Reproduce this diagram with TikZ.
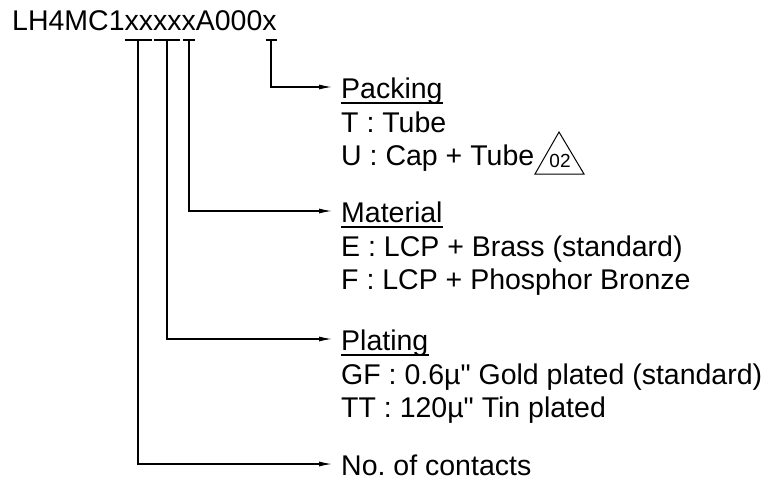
\documentclass[tikz,border=0pt]{standalone}
\usepackage{fontspec}
\setmainfont{Liberation Sans}[Ligatures=TeXOff]
\usetikzlibrary{arrows.meta}
\frenchspacing
\begin{document}
\begin{tikzpicture}[x=1pt,y=-1pt,
  lbl/.style={inner sep=0pt,anchor=base west,font=\fontsize{28.5}{34}\selectfont},
  conn/.style={line width=1.2pt,-{Latex[length=13pt,width=5pt]}},
  tick/.style={line width=1.2pt},
  uline/.style={line width=1.2pt}]
\useasboundingbox (0,0) rectangle (770,491);
% title
\node[lbl] (title) at (12,30) {LH4MC1xxxxxA000x};
% underline segments under code positions
\coordinate (c1) at (138,40);
\coordinate (c2) at (167,40);
\coordinate (c3) at (189,40);
\coordinate (c4) at (271,40);
\draw[tick] (125,40) -- (152,40);
\draw[tick] (154,40) -- (180,40);
\draw[tick] (183,40) -- (195,40);
\draw[tick] (266,40) -- (277,40);
% labels
\node[lbl] (pack) at (341,98) {Packing};
\node[lbl] (packT) at (341,132) {T : Tube};
\node[lbl] (packU) at (341,165) {U : Cap + Tube};
\node[lbl] (mat) at (341,222) {Material};
\node[lbl] (matE) at (341,256) {E : LCP + Brass (standard)};
\node[lbl] (matF) at (341,289) {F : LCP + Phosphor Bronze};
\node[lbl] (plat) at (341,350) {Plating};
\node[lbl] (platG) at (341,384) {GF : 0.6µ" Gold plated (standard)};
\node[lbl] (platT) at (341,417) {TT : 120µ" Tin plated};
\node[lbl] (cont) at (341,475) {No. of contacts};
% underlines of headings
\foreach \n in {pack,mat,plat}
  \draw[uline] ([yshift=-5pt]\n.base west) -- ([yshift=-5pt]\n.base east);
% revision triangle
\coordinate (tA) at (559,132);
\coordinate (tB) at (535,174);
\coordinate (tC) at (584,174);
\draw[line width=1pt,line join=miter] (tA) -- (tB) -- (tC) -- cycle;
\node[inner sep=0pt,font=\fontsize{19}{19}\selectfont] (rev) at (560,161) {02};
% connectors
\draw[conn] (c4) |- ([shift={(-9pt,11pt)}]pack.base west);
\draw[conn] (c3) |- ([shift={(-9pt,11pt)}]mat.base west);
\draw[conn] (c2) |- ([shift={(-9pt,11pt)}]plat.base west);
\draw[conn] (c1) |- ([shift={(-9pt,11pt)}]cont.base west);
\end{tikzpicture}
\end{document}
